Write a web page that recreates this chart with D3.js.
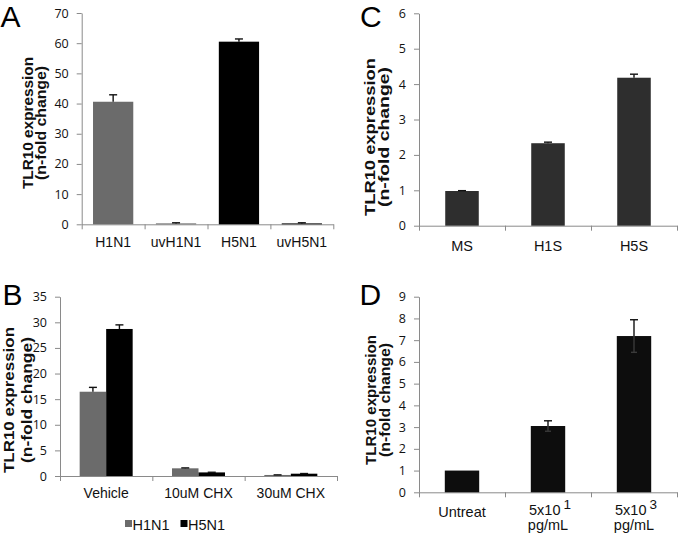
<!DOCTYPE html>
<html>
<head>
<meta charset="utf-8">
<script src="https://cdn.jsdelivr.net/npm/d3@7"></script>
<style>
  html, body { margin: 0; padding: 0; background: #fff; }
  svg { display: block; }
</style>
</head>
<body>
<svg id="chart" width="680" height="538"></svg>
<script>
// ---------- DATA ----------
// Panel A
const catsA = ["H1N1", "uvH1N1", "H5N1", "uvH5N1"];
const valsA = [40.6, 0.3, 60.5, 0.3];
const errA = [2.3, 0.2, 0.9, 0.2];
const ticksA = [0, 10, 20, 30, 40, 50, 60, 70];
// Panel B
const catsB = ["Vehicle", "10uM CHX", "30uM CHX"];
const seriesB = ["H1N1", "H5N1"];
const h1n1B = [16.45, 1.5, 0.2];
const h5n1B = [28.7, 0.7, 0.45];
const errH1n1B = [0.85, 0.08, 0.02];
const errH5n1B = [0.8, 0.03, 0.03];
const ticksB = [0, 5, 10, 15, 20, 25, 30, 35];
// Panel C
const catsC = ["MS", "H1S", "H5S"];
const valsC = [0.98, 2.33, 4.18];
const errC = [0.01, 0.03, 0.1];
const ticksC = [0, 1, 2, 3, 4, 5, 6];
// Panel D
const catsD = ["Untreat", "5x10^1|pg/mL", "5x10^3|pg/mL"];
const valsD = [1.0, 3.05, 7.19];
const errD = [0.0, 0.24, 0.75];
const ticksD = [0, 1, 2, 3, 4, 5, 6, 7, 8, 9];

const yTitle1 = "TLR10 expression";
const yTitle2 = "(n-fold change)";

// ---------- STYLE ----------
const GRAY = "#6b6b6b", BLACK = "#000000", DARK = "#2e2e2e", DBLACK = "#0d0d0d";
const AXIS = "#8a8a8a";
const TICKFONT = "'Open Sans', 'DejaVu Sans', sans-serif";
const LABFONT = "'Liberation Sans', Arial, sans-serif";

const svg = d3.select("#chart");

function panel(p) {
  const g = svg.append("g");
  const y = d3.scaleLinear().domain([0, p.ymax]).range([p.y0, p.y1]);
  const xb = d3.scaleBand().domain(p.cats).range([p.x0, p.x1]).paddingInner(0).paddingOuter(0);
  const xl = d3.scaleLinear().domain([0, p.cats.length]).range([p.x0, p.x1]);

  // y axis
  const ya = g.append("g").attr("transform", `translate(${p.x0},0)`)
    .call(d3.axisLeft(y).tickValues(p.ticks).tickFormat(d3.format("d")).tickSize(5).tickPadding(8).tickSizeOuter(0));
  ya.select(".domain").attr("stroke", AXIS);
  ya.selectAll(".tick line").attr("stroke", AXIS);
  ya.selectAll(".tick text").attr("font-family", TICKFONT).attr("font-size", 12.5).attr("fill", "#111");

  // x axis boundary ticks
  const xa = g.append("g").attr("transform", `translate(0,${p.y0})`)
    .call(d3.axisBottom(xl).tickValues(d3.range(p.cats.length + 1)).tickFormat("").tickSize(5).tickSizeOuter(0));
  xa.select(".domain").attr("stroke", AXIS);
  xa.selectAll(".tick line").attr("stroke", AXIS);

  // bars
  p.series.forEach((s, si) => {
    const bw = xb.bandwidth() * p.barFrac;
    const total = bw * p.series.length;
    const bars = g.append("g");
    p.cats.forEach((c, i) => {
      const bx = xb(c) + (xb.bandwidth() - total) / 2 + si * bw;
      const v = s.vals[i];
      bars.append("rect")
        .attr("x", bx).attr("y", y(v))
        .attr("width", bw).attr("height", y(0) - y(v))
        .attr("fill", s.colors ? s.colors[i] : s.color);
      const e = s.err[i];
      if (e > 0) {
        const cx = bx + bw / 2;
        const eg = g.append("g").attr("stroke-width", 1.4);
        eg.append("line").attr("stroke", "#111").attr("x1", cx).attr("x2", cx).attr("y1", y(v)).attr("y2", y(v + e));
        eg.append("line").attr("stroke", "#111").attr("x1", cx - 4).attr("x2", cx + 4).attr("y1", y(v + e)).attr("y2", y(v + e));
        if (p.lowerErr) {
          eg.append("line").attr("stroke", "#3a3a3a").attr("x1", cx).attr("x2", cx).attr("y1", y(v)).attr("y2", y(v - e));
          eg.append("line").attr("stroke", "#3a3a3a").attr("x1", cx - 3).attr("x2", cx + 3).attr("y1", y(v - e)).attr("y2", y(v - e));
        }
      }
    });
  });

  // category labels
  p.cats.forEach(c => {
    const cx = xb(c) + xb.bandwidth() / 2;
    const t = g.append("text").attr("font-family", LABFONT).attr("font-size", p.labSize)
      .attr("fill", "#111").attr("text-anchor", "middle");
    if (c.indexOf("|") >= 0) {
      const [first, second] = c.split("|");
      const [base, sup] = first.split("^");
      const t1 = g.append("text").attr("font-family", LABFONT).attr("font-size", p.labSize)
        .attr("fill", "#111").attr("text-anchor", "middle")
        .attr("x", cx + 2).attr("y", p.y0 + p.labOff - 2);
      t1.append("tspan").text(base);
      t1.append("tspan").attr("dx", 3).attr("dy", -6).attr("font-size", p.labSize - 1).text(sup);
      t.attr("x", cx).attr("y", p.y0 + p.labOff + 13).text(second);
    } else {
      t.attr("x", cx).attr("y", p.y0 + p.labOff).text(c);
    }
  });

  // y title
  const tg = g.append("g").attr("font-family", LABFONT).attr("font-weight", "bold")
    .attr("font-size", 15).attr("fill", "#111").attr("text-anchor", "middle");
  tg.append("text").attr("transform", `translate(${p.t1x},${p.tcy}) rotate(-90)`)
    .attr("textLength", p.t1len).attr("lengthAdjust", "spacingAndGlyphs").text(yTitle1);
  tg.append("text").attr("transform", `translate(${p.t2x},${p.tcy}) rotate(-90)`)
    .attr("textLength", p.t2len).attr("lengthAdjust", "spacingAndGlyphs").text(yTitle2);

  // panel letter
  g.append("text").attr("x", p.lx).attr("y", p.ly).attr("font-family", LABFONT)
    .attr("font-size", 30).attr("fill", "#000").text(p.letter);
  return {g, xb, y};
}

panel({
  letter: "A", lx: 0.5, ly: 26.5,
  cats: catsA, ymax: 70, ticks: ticksA,
  x0: 81.7, x1: 333.3, y0: 224.3, y1: 13,
  series: [{vals: valsA, err: errA, colors: [GRAY, GRAY, BLACK, BLACK]}],
  barFrac: 0.64, labSize: 14, labOff: 22.5, lowerErr: false,
  t1x: 32.5, t2x: 46, tcy: 123, t1len: 132, t2len: 114
});

panel({
  letter: "B", lx: 2.5, ly: 305,
  cats: catsB, ymax: 35, ticks: ticksB,
  x0: 60, x1: 337, y0: 476, y1: 296.7,
  series: [{vals: h1n1B, err: errH1n1B, color: GRAY}, {vals: h5n1B, err: errH5n1B, color: BLACK}],
  barFrac: 0.287, labSize: 14, labOff: 22, lowerErr: false,
  t1x: 14, t2x: 32, tcy: 400, t1len: 146, t2len: 126
});

panel({
  letter: "C", lx: 360, ly: 26.5,
  cats: catsC, ymax: 6, ticks: ticksC,
  x0: 419, x1: 677, y0: 225.7, y1: 13.3,
  series: [{vals: valsC, err: errC, color: DARK}],
  barFrac: 0.39, labSize: 14.5, labOff: 25.5, lowerErr: false,
  t1x: 374.5, t2x: 388.5, tcy: 137, t1len: 158, t2len: 140
});

panel({
  letter: "D", lx: 359.5, ly: 305,
  cats: catsD, ymax: 9, ticks: ticksD,
  x0: 419, x1: 677, y0: 492.3, y1: 296.7,
  series: [{vals: valsD, err: errD, color: DBLACK}],
  barFrac: 0.4, labSize: 14.5, labOff: 25, lowerErr: true,
  t1x: 375.5, t2x: 389.5, tcy: 400, t1len: 130, t2len: 114
});

// legend for B
const leg = svg.append("g").attr("font-family", LABFONT).attr("font-size", 14.5).attr("fill", "#111");
const legColors = [GRAY, BLACK];
const legX = [125, 180.5];
seriesB.forEach((s, i) => {
  leg.append("rect").attr("x", legX[i]).attr("y", 520).attr("width", 7).attr("height", 7).attr("fill", legColors[i]);
  leg.append("text").attr("x", legX[i] + 7.5).attr("y", 529.5).text(s);
});
</script>
</body>
</html>
